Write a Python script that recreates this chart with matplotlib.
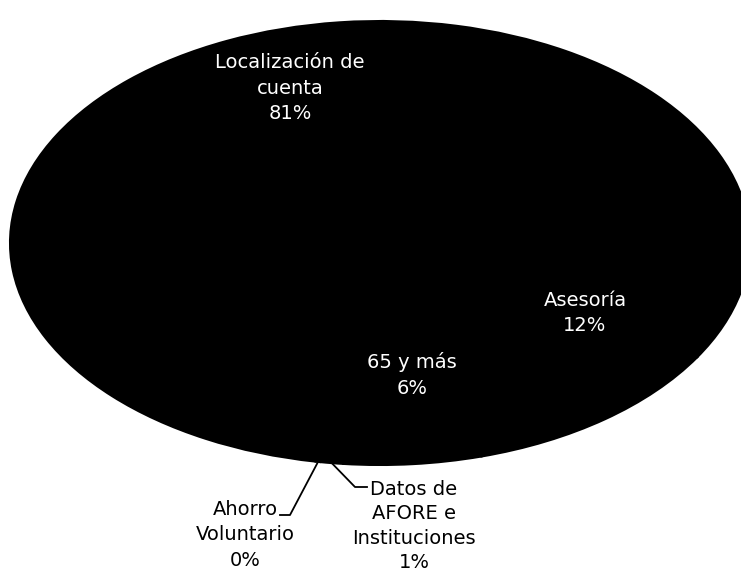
import matplotlib
matplotlib.use("Agg")
import matplotlib.pyplot as plt
import numpy as np

plt.rcParams['font.family'] = ['DejaVu Sans']

# data (0% slice is a tiny sliver)
labels = ["Localización de\ncuenta", "Asesoría", "65 y más",
          "Datos de\nAFORE e\nInstituciones", "Ahorro\nVoluntario"]
values = [81.0, 12.0, 6.0, 1.0, 0.2]

fig = plt.figure(figsize=(7.41, 5.76), dpi=100)
# pie is stretched into an ellipse: centre (380, 243) px, radii 370 x 222 px
W, H = 741, 576
cx, cy, rx, ry = 380, 243, 370, 222
ax = fig.add_axes([(cx - rx) / W, (H - cy - ry) / H, 2 * rx / W, 2 * ry / H])

wedges, _ = ax.pie(values, startangle=260, counterclock=False,
                   colors=["black"] * len(values),
                   wedgeprops=dict(edgecolor="black", linewidth=1.5))
ax.set_aspect("auto")
ax.set_xlim(-1, 1)
ax.set_ylim(-1, 1)
ax.axis("off")

total = sum(values)
pct = [f"{v / total * 100:.0f}%" for v in values]

def px(x, y):
    # figure pixel (from top-left) -> data coords
    return (x - cx) / rx, (cy - y) / ry

fs = 14
ls = 1.45
# labels inside the pie
inside_pos = [(290, 88), (585, 313), (412, 375)]
for i, (x, y) in enumerate(inside_pos):
    dx, dy = px(x, y)
    ax.text(dx, dy, labels[i] + "\n" + pct[i], color="white", ha="center",
            va="center", fontsize=fs, linespacing=ls)

# labels outside with leader lines
out_pos = [(3, (414, 526), (355, 487), (367, 487), 1.35),
           (4, (245, 535), (290, 515), (280, 515), ls)]
for i, tpos, elbow, end, lsp in out_pos:
    w = wedges[i]
    th = np.deg2rad((w.theta1 + w.theta2) / 2)
    sx, sy = np.cos(th), np.sin(th)
    ex, ey = px(*elbow)
    fx, fy = px(*end)
    ax.plot([sx, ex, fx], [sy, ey, fy], color="black", lw=1.3, clip_on=False)
    tx, ty = px(*tpos)
    ax.text(tx, ty, labels[i] + "\n" + pct[i], color="black", ha="center",
            va="center", fontsize=fs, linespacing=lsp)

fig.savefig("out.png", dpi=100)
